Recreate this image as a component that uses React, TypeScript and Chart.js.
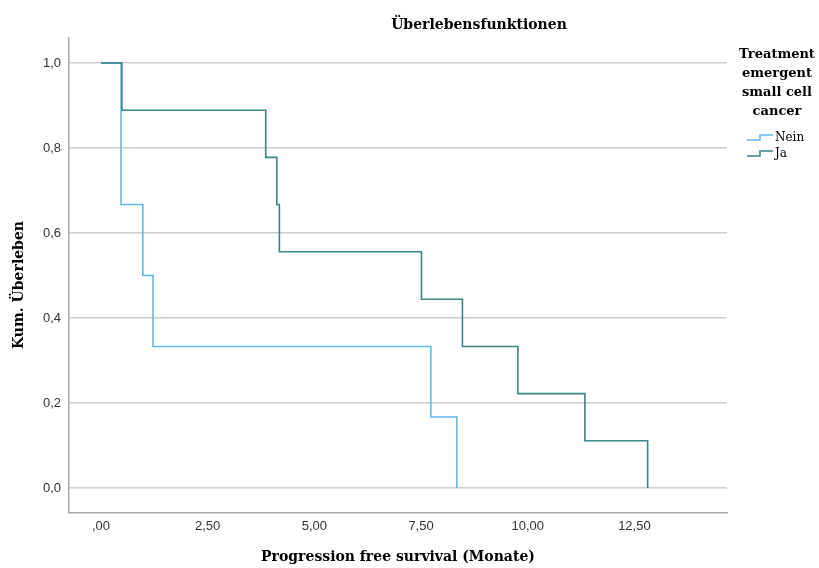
import React, { useEffect, useRef } from "react";
import { Chart, registerables } from "chart.js";

Chart.register(...registerables);

const chartTitle = "Überlebensfunktionen";
const xAxisTitle = "Progression free survival (Monate)";
const yAxisTitle = "Kum. Überleben";
const legendTitle = ["Treatment", "emergent", "small cell", "cancer"];
const seriesNames = ["Nein", "Ja"];
const seriesColors = ["#62b9ee", "#3a8585"];

const neinTimes = [0, 0.47, 0.98, 1.22, 7.73, 8.34];
const neinSurvival = [1, 0.667, 0.5, 0.333, 0.167, 0];
const jaTimes = [0, 0.49, 3.86, 4.12, 4.18, 7.51, 8.47, 9.77, 11.34, 12.81];
const jaSurvival = [1, 0.889, 0.778, 0.667, 0.556, 0.444, 0.333, 0.222, 0.111, 0];

const xTickValues = [0, 2.5, 5, 7.5, 10, 12.5];
const xTickLabels = [",00", "2,50", "5,00", "7,50", "10,00", "12,50"];
const yTickValues = [0, 0.2, 0.4, 0.6, 0.8, 1.0];
const yTickLabels = ["0,0", "0,2", "0,4", "0,6", "0,8", "1,0"];

const SERIF_BOLD = "bold 14px 'DejaVu Serif'";
const SERIF = "12px 'DejaVu Serif'";

const textPlugin = {
  id: "spssText",
  afterDraw(chart: any) {
    const ctx = chart.ctx;
    const area = chart.chartArea;
    ctx.save();
    ctx.fillStyle = "#000";
    ctx.textBaseline = "middle";
    ctx.textAlign = "center";
    ctx.font = SERIF_BOLD;
    ctx.fillText(chartTitle, 479, 25);
    ctx.fillText(xAxisTitle, (area.left + area.right) / 2, 557);
    ctx.save();
    ctx.translate(19, 285);
    ctx.rotate(-Math.PI / 2);
    ctx.fillText(yAxisTitle, 0, 0);
    ctx.restore();
    // legend
    ctx.font = "bold 13px 'DejaVu Serif'";
    legendTitle.forEach((t, i) => ctx.fillText(t, 777, 55 + i * 19));
    ctx.textAlign = "left";
    ctx.font = SERIF;
    seriesNames.forEach((name, i) => {
      const y = 138 + i * 16;
      ctx.strokeStyle = seriesColors[i];
      ctx.lineWidth = 1.5;
      ctx.beginPath();
      ctx.moveTo(747, y + 2);
      ctx.lineTo(760, y + 2);
      ctx.lineTo(760, y - 3);
      ctx.lineTo(773, y - 3);
      ctx.stroke();
      ctx.fillStyle = "#000";
      ctx.fillText(name, 775, y);
    });
    ctx.restore();
  },
};

export default function App() {
  const ref = useRef<HTMLCanvasElement | null>(null);
  useEffect(() => {
    if (!ref.current) return;
    const mk = (t: number[], s: number[]) => t.map((x, i) => ({ x, y: s[i] }));
    const chart = new Chart(ref.current, {
      type: "line",
      data: {
        datasets: [
          {
            label: seriesNames[0],
            data: mk(neinTimes, neinSurvival),
            borderColor: seriesColors[0],
            borderWidth: 1.6,
            pointRadius: 0,
            stepped: "before",
            fill: false,
            order: 1,
          },
          {
            label: seriesNames[1],
            data: mk(jaTimes, jaSurvival),
            borderColor: seriesColors[1],
            borderWidth: 1.6,
            pointRadius: 0,
            stepped: "before",
            fill: false,
            order: 0,
          },
        ],
      },
      options: {
        animation: false,
        responsive: false,
        devicePixelRatio: 1,
        layout: { padding: { left: 0, right: 92, top: 38, bottom: 0 } },
        plugins: { legend: { display: false }, title: { display: false }, tooltip: { enabled: false } },
        scales: {
          x: {
            type: "linear",
            min: -0.75,
            max: 14.67,
            afterFit: (s: any) => { s.height = 55; },
            afterBuildTicks: (s: any) => { s.ticks = xTickValues.map((v) => ({ value: v })); },
            grid: { display: true, color: "rgba(0,0,0,0)", drawTicks: false },
            border: { display: true, color: "#a8a8a8", width: 1.5 },
            ticks: {
              padding: 6,
              color: "#333",
              font: { family: "'Liberation Sans'", size: 13 },
              maxRotation: 0,
              autoSkip: false,
              callback: (_v: any, i: number) => xTickLabels[i],
            },
          },
          y: {
            type: "linear",
            min: -0.059,
            max: 1.059,
            afterFit: (s: any) => { s.width = 69; },
            afterBuildTicks: (s: any) => { s.ticks = yTickValues.map((v) => ({ value: v })); },
            grid: { display: true, color: "#cccccc", lineWidth: 1.5, drawTicks: false },
            border: { display: true, color: "#a8a8a8", width: 1.5 },
            ticks: {
              padding: 8,
              color: "#333",
              font: { family: "'Liberation Sans'", size: 13 },
              autoSkip: false,
              callback: (_v: any, i: number) => yTickLabels[i],
            },
          },
        },
      },
      plugins: [textPlugin],
    } as any);
    return () => chart.destroy();
  }, []);
  return (
    <div style={{ position: "fixed", left: 0, top: 0, width: 819, height: 568, background: "#fff" }}>
      <canvas ref={ref} width={819} height={568} />
    </div>
  );
}
